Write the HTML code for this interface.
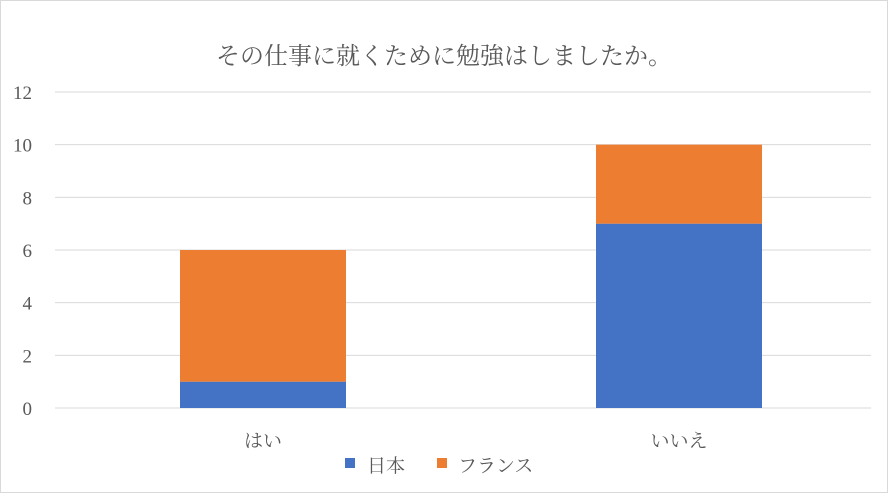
<!DOCTYPE html>
<html><head><meta charset="utf-8"><style>
body{margin:0;background:#fff}
svg{display:block;font-family:"Liberation Serif","Noto Serif CJK JP",serif}
</style></head><body>
<svg width="888" height="493" id="c">
<rect x="0.5" y="0.5" width="887" height="492" fill="#fff" stroke="#d9d9d9"/>
<text x="444" y="64" text-anchor="middle" font-size="24" fill="#595959">その仕事に就くために勉強はしましたか。</text>
<g id="grid"></g><g id="bars"></g><g id="xl"></g>
<g>
<rect x="345" y="458" width="10" height="10" fill="#4472c4"/>
<text x="367" y="472" font-size="19" fill="#595959">日本</text>
<rect x="437" y="458" width="10" height="10" fill="#ed7d31"/>
<text x="458" y="472" font-size="19" fill="#595959">フランス</text>
</g>
</svg>
<script>
const categories=["はい","いいえ"];
const japan=[1,7];
const france=[5,3];
const yTicks=[0,2,4,6,8,10,12];
const NS="http://www.w3.org/2000/svg";
const y0=408,yTop=92,yMax=12,xL=55,xR=887;
const y=v=>y0-(v/yMax)*(y0-yTop);
const band=(xR-xL)/categories.length;
const xc=i=>xL+band*(i+0.5);
const bw=166;
function mk(t,a,p){const e=document.createElementNS(NS,t);for(const k in a)e.setAttribute(k,a[k]);p.appendChild(e);return e;}
const g=document.getElementById('grid');
yTicks.forEach(t=>{
 const l=mk('line',{x1:xL,x2:871,y1:y(t),y2:y(t),stroke:'#d9d9d9','stroke-width':1},g);
 
 
 const tx=mk('text',{x:32,y:y(t)+7,'text-anchor':'end','font-size':19,fill:'#595959'},g);
 tx.textContent=t;
 
 
});
const b=document.getElementById('bars'),xl=document.getElementById('xl');
categories.forEach((c,i)=>{
 const r1=mk('rect',{x:xc(i)-bw/2,y:y(japan[i]),width:bw,height:y0-y(japan[i]),fill:'#4472c4'},b);
 
 
 const r2=mk('rect',{x:xc(i)-bw/2,y:y(japan[i]+france[i]),width:bw,height:y(japan[i])-y(japan[i]+france[i]),fill:'#ed7d31'},b);
 
 
 const t=mk('text',{x:xc(i),y:447,'text-anchor':'middle','font-size':19,fill:'#595959'},xl);
 t.textContent=c;
 
 
});
</script>
</body></html>
